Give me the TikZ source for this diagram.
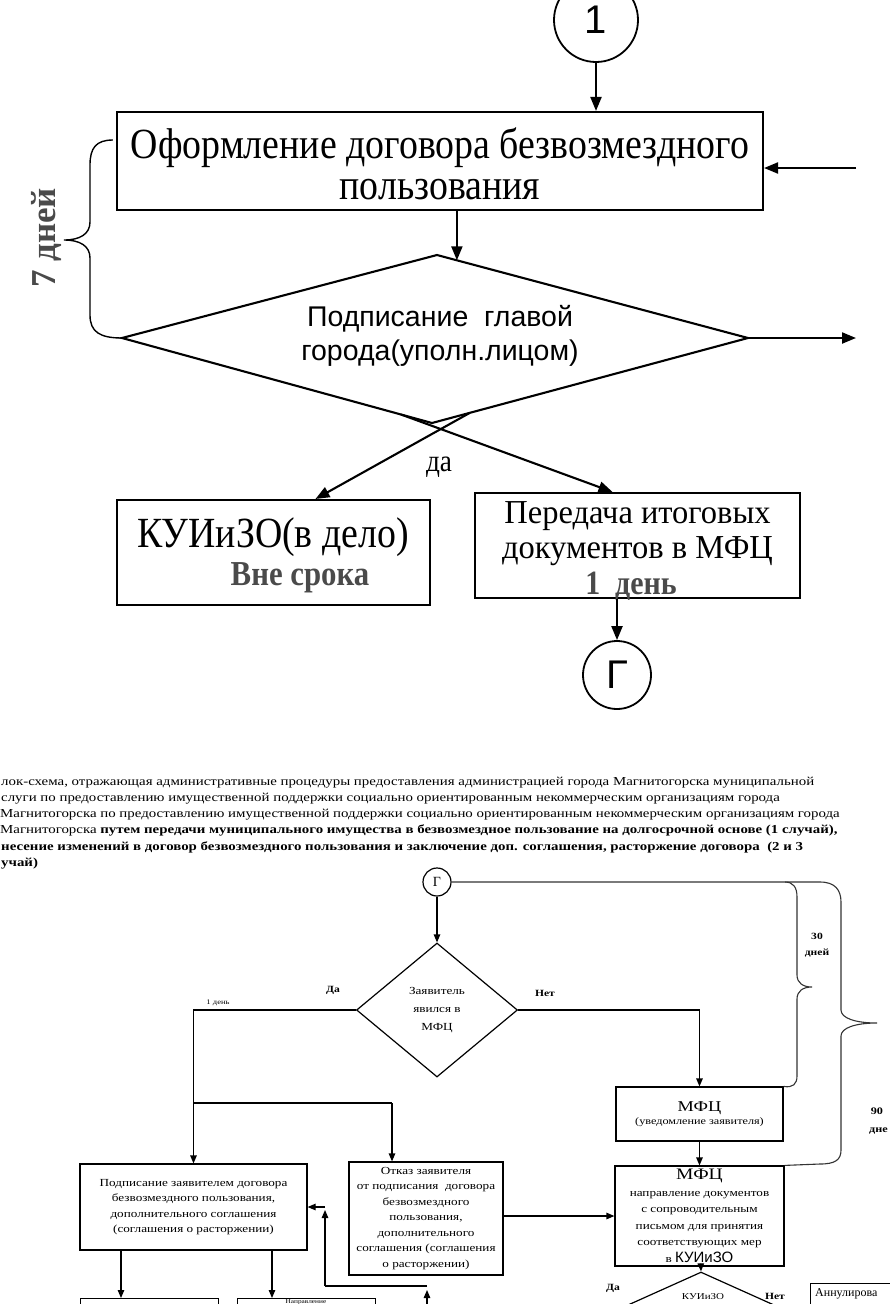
\documentclass[tikz,border=0pt]{standalone}
\usepackage{fontspec}
\setmainfont{Liberation Serif}
\newfontfamily\sansf{Liberation Sans}
\newfontfamily\condserif[FakeStretch=0.88]{Liberation Serif}
\newfontfamily\midserif[FakeStretch=0.97]{Liberation Serif}
\newfontfamily\wideserif[FakeStretch=1.22]{Liberation Serif}
\usetikzlibrary{arrows.meta,shapes.geometric,calc}
\definecolor{txtgray}{HTML}{4A4A4A}
\begin{document}
\begin{tikzpicture}[x=1pt,y=-1pt,
  tbox/.style={draw,line width=2.1pt,inner sep=0pt},
  ttext/.style={inner sep=0pt,align=center},
  tcirc/.style={draw,circle,line width=1.8pt,inner sep=0pt,font=\sansf\fontsize{40}{40}\selectfont},
  tarrow/.style={line width=2.1pt,-{Triangle[length=14pt,width=11pt]}},
  tline/.style={line width=1.4pt},
  para/.style={anchor=base west,inner sep=0pt,font=\wideserif\fontsize{12.2}{14}\selectfont},
  sbox/.style={draw,line width=1.2pt,inner sep=0pt,align=center,font=\wideserif\fontsize{10.8}{15.5}\selectfont},
  sdiam/.style={draw,diamond,line width=1.2pt,inner sep=0pt,align=center,font=\wideserif\fontsize{10.8}{18}\selectfont},
  sline/.style={line width=1.2pt},
  sarrow/.style={line width=1.2pt,-{Triangle[length=8pt,width=6.5pt]}},
  slabel/.style={inner sep=0pt,font=\wideserif\bfseries\fontsize{9.5}{11}\selectfont},
  brace/.style={line width=1.1pt,draw=black!80}
]
\useasboundingbox (0,0) rectangle (890,1304);

% ---------------- upper flowchart ----------------
\node[tcirc,minimum size=84pt] (one) at (596,20) {1};
\node[tbox,minimum width=646pt,minimum height=98pt] (oform) at (440,161) {};
\node[ttext,font=\condserif\fontsize{43}{41}\selectfont] (oformtxt) at (440,164) {Оформление договора безвозмездного\\пользования};
\draw[tarrow] (one) -- (one |- oform.north);
\coordinate (inR) at (856,168);
\draw[tarrow] (inR) -- (inR -| oform.east);

% decision diamond
\coordinate (signN) at (437,255);
\coordinate (signE) at (748,338);
\coordinate (signS) at (432,423);
\coordinate (signW) at (122,338);
\draw[line width=2.1pt,line join=miter] (signN) -- (signE) -- (signS) -- (signW) -- cycle;
\node[ttext,font=\sansf\fontsize{28.5}{34}\selectfont] (sign) at (440,336) {Подписание\ \ главой\\города(уполн.лицом)};
\coordinate (signA) at ($(signN)!0.064!(signE)$);
\draw[tarrow] (oform.south -| signA) -- (signA);
\coordinate (outR) at (856,338);
\draw[tarrow] (signE) -- (outR);

% brace 7 days
\draw[tline] ($(oform.west)+(-3,-21)$) .. controls (96,140) and (90,148) .. (90,165) -- (90,222)
  .. controls (90,234) and (80,240) .. (64,240) .. controls (80,240) and (90,246) .. (90,258)
  -- (90,315) .. controls (90,332) and (100,338) .. (signW);
\node[rotate=90,text=txtgray,font=\bfseries\fontsize{35}{35}\selectfont] (seven) at (46,238) {7 дней};

% result boxes
\node[tbox,minimum width=313pt,minimum height=105pt] (kuiz) at (273.5,552.5) {};
\node[inner sep=0pt,font=\condserif\fontsize{43}{43}\selectfont] (kuiztxt) at (273,537) {КУИиЗО(в дело)};
\node[inner sep=0pt,text=txtgray,font=\condserif\bfseries\fontsize{35}{35}\selectfont] (vne) at (300,578) {Вне срока};
\node[tbox,minimum width=325pt,minimum height=105pt] (pered) at (637.5,545.5) {};
\node[ttext,font=\midserif\fontsize{33.5}{35}\selectfont] (peredtxt) at (637.5,534) {Передача итоговых\\документов в МФЦ};
\node[inner sep=0pt,text=txtgray,font=\condserif\bfseries\fontsize{34}{34}\selectfont] (oneday) at (631,586) {1\ \ день};

\coordinate (xa) at ($(signS)!0.12!(signE)$);
\coordinate (xb) at ($(signS)!0.10!(signW)$);
\draw[tarrow] (xa) -- ($(kuiz.north)+(42,0)$);
\draw[tarrow] (xb) -- ($(pered.north)+(-25,0)$);
\node[inner sep=0pt,font=\condserif\fontsize{31}{31}\selectfont] (da) at (439,467) {да};

\node[tcirc,minimum size=68pt] (Gbig) at (617,675) {Г};
\draw[tarrow] (Gbig.north |- pered.south) -- (Gbig.north);

% ---------------- caption paragraph ----------------
\node[para] (p1) at (1,785) {лок-схема, отражающая административные процедуры предоставления администрацией города Магнитогорска муниципальной};
\node[para] (p2) at (1,801) {слуги по предоставлению имущественной поддержки социально ориентированным некоммерческим организациям города};
\node[para] (p3) at (0,817) {Магнитогорска по предоставлению имущественной поддержки социально ориентированным некоммерческим организациям города};
\node[para] (p4) at (0,833) {Магнитогорска \textbf{путем передачи муниципального имущества в безвозмездное пользование на долгосрочной основе (1 случай),}};
\node[para] (p5) at (1,850) {\textbf{несение изменений в договор безвозмездного пользования и заключение доп. соглашения, расторжение договора\ \ (2 и 3}};
\node[para] (p6) at (1,866) {\textbf{учай)}};

% ---------------- lower flowchart ----------------
\node[draw,circle,line width=1.2pt,minimum size=28pt,inner sep=0pt,font=\fontsize{14}{14}\selectfont] (Gs) at (437,882) {Г};
\node[sdiam,minimum width=161pt,minimum height=134pt] (zay) at (437,1010) {Заявитель\\явился в\\МФЦ};
\draw[sarrow] (Gs) -- (zay.north);

\node[sbox,minimum width=227pt,minimum height=86pt] (podp) at (193.5,1207)
  {Подписание заявителем договора\\безвозмездного пользования,\\дополнительного соглашения\\(соглашения о расторжении)};
\node[sbox,minimum width=154pt,minimum height=113pt] (otk) at (426,1218.5)
  {Отказ заявителя\\от подписания\ \ договора\\безвозмездного\\пользования,\\дополнительного\\соглашения (соглашения\\о расторжении)};
\node[sbox,minimum width=167pt,minimum height=54pt] (mfc1) at (699.5,1114)
  {{\fontsize{15}{15}\selectfont МФЦ}\\[-3pt]{\fontsize{10}{12}\selectfont (уведомление заявителя)}};
\node[sbox,minimum width=169pt,minimum height=100pt,font=\wideserif\fontsize{10.8}{16.5}\selectfont] (mfc2) at (699.5,1216)
  {{\fontsize{16}{16}\selectfont МФЦ}\\направление документов\\с сопроводительным\\письмом для принятия\\соответствующих мер\\в {\sansf\fontsize{15}{15}\selectfont КУИиЗО}};

% Yes / No from first decision
\draw[sarrow] (zay.west) -| (podp.north);
\node[slabel] (lda) at (333,990) {Да};
\node[inner sep=0pt,font=\wideserif\fontsize{7}{8}\selectfont] (lday) at (218,1003) {1 день};
\coordinate (br) at (podp.north |- 0,1103);
\coordinate (brR) at (392,1103);
\draw[sline] (br) -- (brR);
\draw[sarrow] (brR) -- (brR |- otk.north);
\draw[sarrow] (zay.east) -| (mfc1.north);
\node[slabel] (lnet) at (545,993) {Нет};

\draw[sarrow] (mfc1) -- (mfc2);
\draw[sarrow] (otk.east |- mfc2.west) -- (mfc2.west);

% braces 30 / 90 days
\coordinate (bj) at (785,882);
\draw[brace] (Gs.east) -- (bj) .. controls (793,882) and (797,887) .. (797,897) -- (797,975)
  .. controls (797,983) and (803,987) .. (812,987) .. controls (803,987) and (797,991) .. (797,999)
  -- (797,1076) .. controls (797,1084) and (793,1088) .. (mfc1.north east);
\draw[brace] (bj) -- (820,882) .. controls (835,882) and (841,890) .. (841,902) -- (841,1010)
  .. controls (841,1018) and (855,1023) .. (877,1023) .. controls (855,1023) and (841,1028) .. (841,1036)
  -- (841,1150) .. controls (841,1160) and (835,1164) .. (820,1164) -- (mfc2.north east);
\node[slabel,align=center,font=\wideserif\bfseries\fontsize{9.5}{16}\selectfont] (d30) at (817,945) {30\\дней};
\node[slabel,align=left,anchor=west,font=\wideserif\bfseries\fontsize{10}{18}\selectfont] (d90) at (869,1121) {\,90\\дне};

% second decision (cut off)
\node[sdiam,minimum width=142pt,minimum height=64pt] (kd) at (701,1304) {};
\node[inner sep=0pt,font=\wideserif\fontsize{9}{10}\selectfont] (kdtxt) at (703,1297) {КУИиЗО};
\draw[sarrow] (mfc2) -- (kd.north);
\node[slabel] (lda2) at (613,1288) {Да};
\node[slabel] (lnet2) at (775,1296) {Нет};
\node[draw,line width=1.2pt,anchor=north west,minimum width=120pt,minimum height=60pt] (ann) at (810,1283) {};
\node[inner sep=0pt,anchor=base west,font=\fontsize{12}{14}\selectfont] (anntxt) at (815,1296) {Аннулирова};

% boxes below signing (cut off)
\node[draw,line width=1.2pt,anchor=north west,minimum width=138pt,minimum height=40pt] (boxA) at (80,1298) {};
\node[draw,line width=1.2pt,anchor=north west,minimum width=138pt,minimum height=40pt] (boxB) at (237,1298) {};
\node[inner sep=0pt,anchor=base,font=\wideserif\fontsize{6}{7}\selectfont] (boxBtxt) at (306,1303) {Направление};
\draw[sarrow] (podp.south -| 121,0) -- (boxA.north -| 121,0);
\draw[sarrow] (podp.south -| 272,0) -- (boxB.north -| 272,0);

% return arrow into signing box
\coordinate (rb) at (427,1304);
\coordinate (rc) at (427,1286);
\coordinate (rl) at (325,1286);
\coordinate (rt) at (325,1207);
\draw[sarrow] (rb) -- (427,1290);
\draw[sline] (rc) -- (rl);
\draw[sarrow] (rl) -- (325,1210);
\draw[sarrow] (rt) -- (rt -| podp.east);
\end{tikzpicture}
\end{document}
